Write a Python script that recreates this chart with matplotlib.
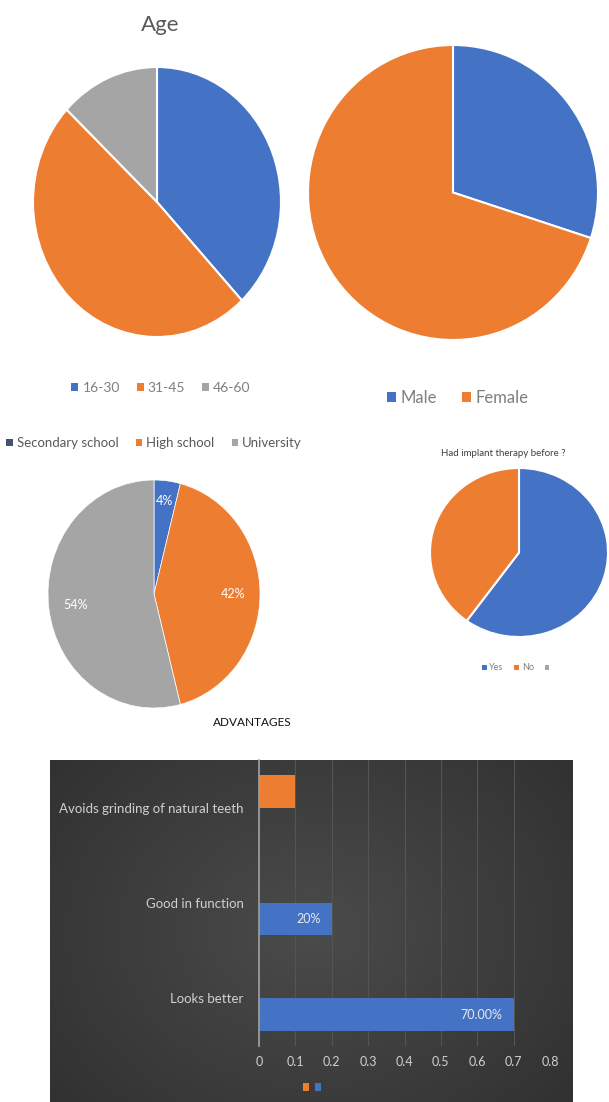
import matplotlib
matplotlib.use("Agg")
import matplotlib.pyplot as plt
from matplotlib.patches import Patch
from matplotlib.colors import LinearSegmentedColormap
import numpy as np

plt.rcParams['font.family'] = ['Lato', 'DejaVu Sans']

W, H = 609, 1102

BLUE = "#4472C4"
ORANGE = "#ED7D31"
GRAY = "#A5A5A5"

# data
age_labels = ["16-30", "31-45", "46-60"]
age_values = [38, 49, 13]

gender_labels = ["Male", "Female"]
gender_values = [30, 70]

edu_labels = ["Secondary school", "High school", "University"]
edu_values = [4, 42, 54]
edu_text = ["4%", "42%", "54%"]

implant_labels = ["Yes", "No"]
implant_values = [60, 40]

adv_categories = ["Looks better", "Good in function", "Avoids grinding of natural teeth"]
adv_orange = [0, 0, 0.1]
adv_blue = [0.7, 0.2, 0]
adv_blue_text = ["70.00%", "20%", ""]


def box(x0, y0, x1, y1):
    # pixel box (top-left origin) -> figure fraction rect
    return [x0 / W, 1 - y1 / H, (x1 - x0) / W, (y1 - y0) / H]


def pie_axes(rect, values, colors, lw=1.5):
    ax = fig.add_axes(rect)
    wedges, _ = ax.pie(values, colors=colors, startangle=90, counterclock=False,
                       wedgeprops=dict(edgecolor="white", linewidth=lw))
    ax.set_aspect("auto")
    ax.set_xlim(-1, 1)
    ax.set_ylim(-1, 1)
    ax.axis("off")
    return ax, wedges


def small_legend(x, y, labels, colors, size, spacing=1.2, tcolor="#595959"):
    handles = [Patch(facecolor=c, edgecolor="none") for c in colors]
    fig.legend(handles, labels, loc="center", bbox_to_anchor=(x / W, 1 - y / H),
               ncol=len(labels), frameon=False, fontsize=size, handlelength=0.5,
               handleheight=0.5, handletextpad=0.3, columnspacing=spacing,
               labelcolor=tcolor)


fig = plt.figure(figsize=(W / 100, H / 100), dpi=100)

# Age pie
pie_axes(box(33, 67, 281, 337), age_values, [BLUE, ORANGE, GRAY])
fig.text(160 / W, 1 - 25 / H, "Age", ha="center", va="center", fontsize=16, color="#595959")
small_legend(161, 388, age_labels, [BLUE, ORANGE, GRAY], 10, tcolor="#7f7f7f")

# Gender pie
pie_axes(box(308, 45, 598, 340), gender_values, [BLUE, ORANGE])
small_legend(458, 398, gender_labels, [BLUE, ORANGE], 12, spacing=1.5, tcolor="#7f7f7f")

# Education pie
ax3, w3 = pie_axes(box(48, 480, 260, 708), edu_values, [BLUE, ORANGE, GRAY], lw=0.5)
small_legend(154, 443, edu_labels, ["#44546A", ORANGE, GRAY], 9.5, spacing=1.3)
cum = np.cumsum([0] + edu_values)
for i, t in enumerate(edu_text):
    mid = 90 - (cum[i] + edu_values[i] / 2) / 100 * 360
    r = 0.75 if edu_values[i] > 10 else 0.82
    ax3.text(r * np.cos(np.radians(mid)), r * np.sin(np.radians(mid)), t,
             ha="center", va="center", color="white", fontsize=9)

# Implant therapy pie
pie_axes(box(430, 468, 608, 637), implant_values, [BLUE, ORANGE])
fig.text(503 / W, 1 - 453 / H, "Had implant therapy before ?", ha="center", va="center",
         fontsize=7, color="#404040")
handles = [Patch(facecolor=c, edgecolor="none") for c in [BLUE, ORANGE, GRAY]]
fig.legend(handles, implant_labels + [""], loc="center", bbox_to_anchor=(517 / W, 1 - 668 / H),
           ncol=3, frameon=False, fontsize=6.5, handlelength=0.5, handleheight=0.5,
           handletextpad=0.3, columnspacing=1.2, labelcolor="#7f7f7f")

fig.text(252 / W, 1 - 723 / H, "ADVANTAGES", ha="center", va="center", fontsize=8.5, color="#111111")

# dark panel behind bar chart
bg = fig.add_axes(box(50, 760, 573, 1102))
gx = np.linspace(-1, 1, 200)
gy = np.linspace(-1, 1, 120)
GX, GY = np.meshgrid(gx, gy)
grad = np.sqrt(GX ** 2 + (GY * 0.8) ** 2)
cm = LinearSegmentedColormap.from_list("panel", ["#4b4b4b", "#313131"])
bg.imshow(grad, cmap=cm, vmin=0, vmax=1.3, aspect="auto",
          extent=(0, 1, 0, 1), origin="lower")
bg.axis("off")

# bar chart
ax = fig.add_axes(box(259, 760, 550, 1046))
ax.set_facecolor("none")
y = np.arange(len(adv_categories))
bh = 0.34
ax.barh(y + bh / 2, adv_orange, height=bh, color=ORANGE)
ax.barh(y - bh / 2, adv_blue, height=bh, color=BLUE)
for yi, v, t in zip(y, adv_blue, adv_blue_text):
    if t:
        ax.text(v - 0.03, yi - bh / 2, t, ha="right", va="center", color="#e8e8e8", fontsize=9)
ax.set_xlim(0, 0.8)
ax.set_ylim(-0.5, 2.5)
ax.set_xticks(np.arange(0, 0.81, 0.1))
ax.set_xticklabels(["0"] + ["%.1f" % v for v in np.arange(0.1, 0.81, 0.1)])
ax.set_yticks(y)
ax.set_yticklabels(adv_categories)
ax.tick_params(length=0, colors="#d0d0d0", labelsize=9)
ax.tick_params(axis="x", pad=7)
ax.tick_params(axis="y", pad=11, labelsize=9.5)
ax.grid(axis="x", color="#545454", linewidth=0.8)
ax.set_axisbelow(True)
for s in ["top", "right", "bottom"]:
    ax.spines[s].set_visible(False)
ax.spines["left"].set_color("#a0a0a0")
ax.spines["left"].set_linewidth(1.2)

handles = [Patch(facecolor=ORANGE), Patch(facecolor=BLUE)]
fig.legend(handles, ["", ""], loc="center", bbox_to_anchor=(312 / W, 1 - 1088 / H),
           ncol=2, frameon=False, handlelength=0.6, handleheight=0.8,
           handletextpad=0.0, columnspacing=0.6, fontsize=7)

fig.savefig("out.png", dpi=100)
